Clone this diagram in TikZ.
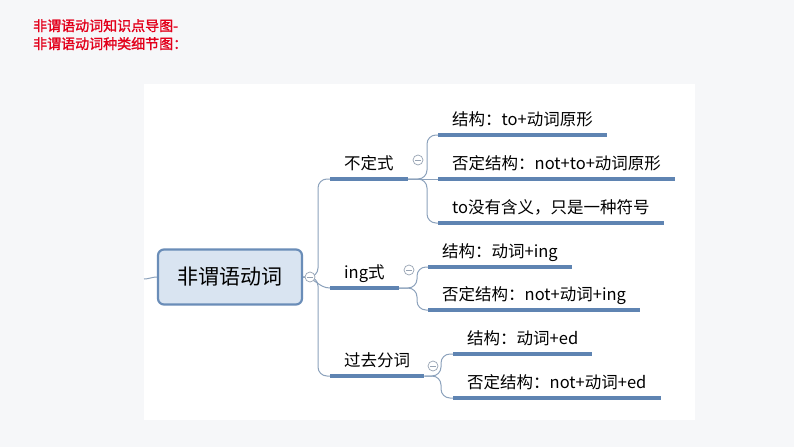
\documentclass[tikz,border=0pt]{standalone}
\usepackage{fontspec}
\setmainfont{Noto Sans CJK SC}
\newfontfamily\titlefont{Noto Sans CJK SC}[FakeBold=1.5]
\usetikzlibrary{positioning, calc}
\definecolor{pagegray}{HTML}{F6F7F9}
\definecolor{titlered}{HTML}{E3001B}
\definecolor{topicblue}{HTML}{5F84B2}
\definecolor{linkgray}{HTML}{8CA2BC}
\definecolor{rootfill}{HTML}{D9E4F1}
\definecolor{rootdraw}{HTML}{6A8DB8}
\definecolor{knobgray}{HTML}{97A3B3}

\begin{document}
\begin{tikzpicture}[
    x=1pt, y=-1pt,
    heading/.style={anchor=north west, inner sep=0pt, align=left, text=titlered,
                    font=\titlefont\fontsize{14}{18}\selectfont},
    root/.style={rectangle, draw=rootdraw, line width=2.2pt, fill=rootfill,
                 rounded corners=6pt, minimum width=144pt, minimum height=55pt,
                 font=\fontsize{21}{24}\selectfont},
    topic/.style={anchor=south west, inner xsep=14pt, inner ysep=6pt,
                  text height=12pt, text depth=3pt, font=\fontsize{16.5}{18}\selectfont},
    uline/.style={draw=topicblue, line width=3.5pt},
    link/.style={draw=linkgray, line width=1pt, rounded corners=9pt},
    knob/.style={circle, draw=knobgray, fill=white, line width=0.7pt,
                 minimum size=10pt, inner sep=0pt,
                 path picture={\draw[knobgray, line width=0.7pt]
                   ([xshift=-2.6pt]path picture bounding box.center) --
                   ([xshift=2.6pt]path picture bounding box.center);}}
]

% Page and panel
\useasboundingbox (0,0) rectangle (794,447);
\fill[pagegray] (0,0) rectangle (794,447);
\fill[white] (144,84) rectangle (695,420);

% Title
\node[heading] (title) at (33,19) {非谓语动词知识点导图-\\非谓语动词种类细节图：};

% Root
\node[root] (root) at (230,277) {非谓语动词};
\coordinate (inlet) at (144,279);

% First level
\node[topic] (inf) at (330,179) {不定式};
\node[topic] (ing) at (330,288) {ing式};
\node[topic] (past) at (330,376) {过去分词};

% Second level
\node[topic] (inf1) at (438,135) {结构：to+动词原形};
\node[topic] (inf2) at (438,179) {否定结构：not+to+动词原形};
\node[topic] (inf3) at (438,223) {to没有含义，只是一种符号};
\node[topic] (ing1) at (428,267) {结构：动词+ing};
\node[topic] (ing2) at (428,310) {否定结构：not+动词+ing};
\node[topic] (past1) at (453,354) {结构：动词+ed};
\node[topic] (past2) at (453,398) {否定结构：not+动词+ed};

% Links
\draw[link] (inlet) to[out=0, in=180] (root.west);
\draw[link] (root.east) -| ([xshift=-12pt]inf.south west) -- (inf.south west);
\draw[link] (root.east) to[out=0, in=180] (ing.south west);
\draw[link] (root.east) -| ([xshift=-12pt]past.south west) -- (past.south west);

\draw[link] (inf.south east) -| ([xshift=-11pt]inf1.south west) -- (inf1.south west);
\draw[link] (inf.south east) -- (inf2.south west);
\draw[link] (inf.south east) -| ([xshift=-11pt]inf3.south west) -- (inf3.south west);
\draw[link] (ing.south east) -| ([xshift=-11pt]ing1.south west) -- (ing1.south west);
\draw[link] (ing.south east) -| ([xshift=-11pt]ing2.south west) -- (ing2.south west);
\draw[link] (past.south east) -| ([xshift=-12pt]past1.south west) -- (past1.south west);
\draw[link] (past.south east) -| ([xshift=-12pt]past2.south west) -- (past2.south west);

% Underlines
\foreach \t in {inf, ing, past, inf1, inf2, inf3, ing1, ing2, past1, past2}
  \draw[uline] (\t.south west) -- (\t.south east);

% Collapse knobs
\node[knob] (knob0) at (310,277) {};
\node[knob] (knob1) at (418,160) {};
\node[knob] (knob2) at (409,270) {};
\node[knob] (knob3) at (433,366) {};

\end{tikzpicture}
\end{document}
